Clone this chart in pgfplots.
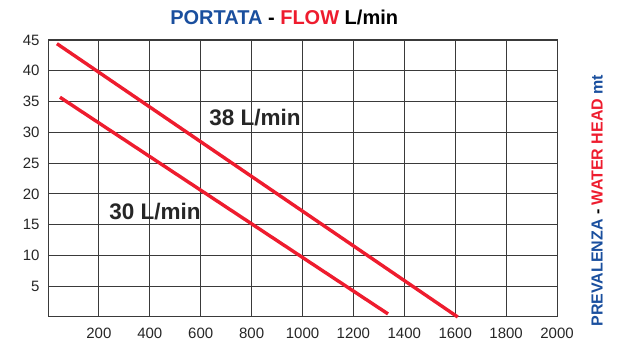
\documentclass[border=0pt]{standalone}
\usepackage{fontspec}
\setmainfont{Liberation Sans}
\usepackage{pgfplots}
\pgfplotsset{compat=1.18}
\definecolor{tblue}{HTML}{1A4F9E}
\definecolor{tred}{HTML}{EE1C2E}
\definecolor{gridc}{HTML}{3A3A3A}
\begin{document}
\begin{tikzpicture}[x=1pt,y=1pt]
\path[use as bounding box] (0,0) rectangle (620,352);
\begin{axis}[
  at={(48pt,35pt)}, anchor=origin,
  scale only axis, width=509pt, height=277pt,
  xmin=0, xmax=2000, ymin=0, ymax=45,
  xtick={200,400,...,2000}, ytick={5,10,...,45},
  grid=major,
  major grid style={gridc, line width=0.9pt},
  axis line style={gridc, line width=1pt},
  major tick length=0pt,
  tick label style={font=\fontsize{15}{15}\selectfont, text=black!85},
  /pgf/number format/assume math mode=true,
  /pgf/number format/1000 sep={},
  xticklabel style={yshift=-7pt},
  yticklabel style={xshift=-5pt},
  clip=false,
]
\addplot[tred, line width=3.4pt] coordinates {(35,44.4) (1610,0)};
\addplot[tred, line width=3.4pt] coordinates {(47,35.7) (1336,0.5)};
\node[font=\bfseries\fontsize{22.5}{22.5}\selectfont, text=black!85] at (axis cs:813,32.4) {38 L/min};
\node[font=\bfseries\fontsize{22.5}{22.5}\selectfont, text=black!85] at (axis cs:420,17.2) {30 L/min};
\node[font=\bfseries\fontsize{20}{20}\selectfont] at (rel axis cs:0.464,1.08) {\textcolor{tblue}{PORTATA} - \textcolor{tred}{FLOW} L/min};
\node[font=\bfseries\fontsize{16}{16}\selectfont, rotate=90] at (rel axis cs:1.079,0.42) {\textcolor{tblue}{PREVALENZA} - \textcolor{tred}{WATER HEAD} \textcolor{tblue}{mt}};
\end{axis}
\end{tikzpicture}
\end{document}
